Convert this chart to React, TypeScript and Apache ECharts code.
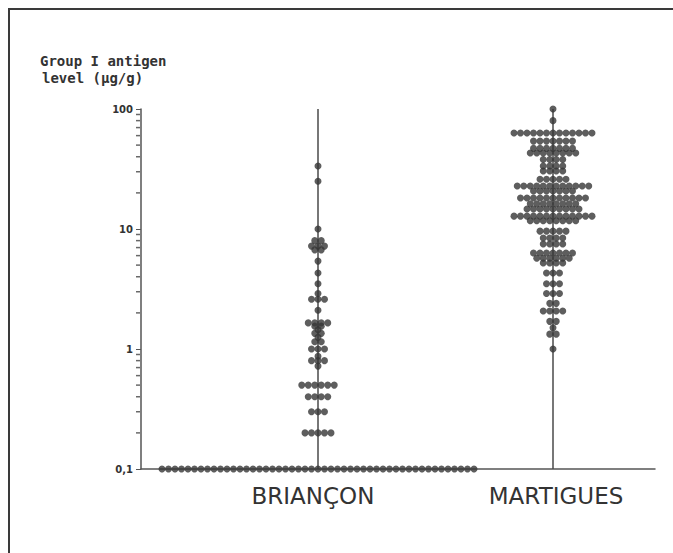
import { useEffect, useRef } from "react";
import * as echarts from "echarts";

// Site names shown under each column
const groups = ["BRIANÇON", "MARTIGUES"];

// Axis title, one entry per printed line
const yTitleLines = ["Group I antigen", "level (µg/g)"];

// Y axis decades and their printed labels (French decimal comma)
const yTickValues = [0.1, 1, 10, 100];
const yTickLabels = ["0,1", "1", "10", "100"];
const minorTickValues = [
  0.2, 0.3, 0.4, 0.5, 0.6, 0.7, 0.8, 0.9,
  2, 3, 4, 5, 6, 7, 8, 9,
  20, 30, 40, 50, 60, 70, 80, 90,
];

// Briançon: antigen level of each row of dots and how many children share it
const brianconLevels = [
  33.5, 25, 10, 8, 7.2, 6.7, 5.4, 4.3, 3.5, 2.9, 2.6, 2.1, 1.65, 1.55, 1.45,
  1.35, 1.25, 1.15, 1.0, 0.87, 0.8, 0.72, 0.5, 0.4, 0.3, 0.2, 0.1,
];
const brianconCounts = [
  1, 1, 1, 2, 3, 2, 1, 1, 1, 1, 3, 1, 4, 2, 1,
  2, 1, 2, 3, 1, 3, 1, 6, 4, 3, 5, 49,
];

// Martigues: antigen level of each row of dots and how many children share it
const martiguesLevels = [
  100, 80, 63, 54, 47, 43, 38, 33.5, 30.4, 26, 22.8, 20.7, 18.1, 16.2, 14.7,
  12.8, 11.7, 9.6, 8.4, 7.5, 6.3, 5.7, 5.2, 4.3, 3.5, 2.9, 2.4, 2.07, 1.7, 1.5,
  1.33, 1.0,
];
const martiguesCounts = [
  1, 1, 13, 7, 7, 8, 4, 4, 4, 5, 12, 7, 11, 8, 9,
  13, 8, 5, 4, 4, 7, 6, 4, 3, 3, 3, 2, 4, 2, 1,
  2, 1,
];

// Horizontal layout: x axis runs in pixel-sized units across the plot
const X_MAX = 514;
const COLUMN_X = [177, 412];
const DOT_STEP = 6.5;

const INK = "#363636";

function rowsToPoints(levels: number[], counts: number[], cx: number) {
  const pts: number[][] = [];
  levels.forEach((v, r) => {
    const n = counts[r];
    for (let i = 0; i < n; i++) {
      pts.push([cx + (i - (n - 1) / 2) * DOT_STEP, v]);
    }
  });
  return pts;
}

export default function App() {
  const ref = useRef<HTMLDivElement>(null);

  useEffect(() => {
    if (!ref.current) return;
    const chart = echarts.init(ref.current, null, { renderer: "svg" });

    const dotSeries = [
      rowsToPoints(brianconLevels, brianconCounts, COLUMN_X[0]),
      rowsToPoints(martiguesLevels, martiguesCounts, COLUMN_X[1]),
    ].map((data, i) => ({
      name: groups[i],
      type: "scatter",
      data,
      symbol: "circle",
      symbolSize: 7,
      itemStyle: { color: INK },
      z: 3,
    }));

    const stemSeries = COLUMN_X.map((cx, i) => ({
      name: groups[i] + " stem",
      type: "line",
      data: [
        [cx, 0.1],
        [cx, 100],
      ],
      symbol: "none",
      lineStyle: { color: "#4a4a4a", width: 1.5 },
      z: 2,
    }));

    chart.setOption({
      animation: false,
      backgroundColor: "#ffffff",
      grid: {
        left: 141,
        top: 109,
        width: X_MAX,
        height: 360,
        outerBoundsMode: "none",
      },
      xAxis: {
        type: "value",
        min: 0,
        max: X_MAX,
        axisLine: { show: true, onZero: false, lineStyle: { color: "#555", width: 1.5 } },
        axisTick: { show: false },
        axisLabel: { show: false },
        splitLine: { show: false },
      },
      yAxis: {
        type: "log",
        logBase: 10,
        min: 0.1,
        max: 100,
        axisLine: { show: true, lineStyle: { color: "#555", width: 1.5 } },
        axisTick: { show: true, length: 5, lineStyle: { color: "#555", width: 1 } },
        axisLabel: {
          show: true,
          margin: 8,
          color: "#333",
          fontFamily: "DejaVu Sans",
          fontWeight: "bold",
          fontSize: 10,
          formatter: (v: number) => {
            const k = yTickValues.findIndex((t) => Math.abs(t - v) < t * 1e-6);
            return k >= 0 ? yTickLabels[k] : "";
          },
        },
        splitLine: { show: false },
      },
      series: [
        ...stemSeries,
        ...dotSeries,
        {
          name: "minor ticks",
          type: "scatter",
          data: minorTickValues.map((v) => [0, v]),
          symbol: "rect",
          symbolSize: [4, 1.5],
          symbolOffset: [-3, 0],
          itemStyle: { color: "#444" },
          clip: false,
          silent: true,
          z: 4,
        },
      ],
      graphic: [
        {
          type: "rect",
          shape: { x: 9, y: 9, width: 700, height: 600 },
          style: { fill: "none", stroke: "#3a3a3a", lineWidth: 2 },
          z: 10,
        },
        ...yTitleLines.map((line, i) => ({
          type: "text",
          x: 40 + i * 2,
          y: 54 + i * 17,
          style: {
            text: line,
            fontFamily: "DejaVu Sans Mono",
            fontWeight: "bold",
            fontSize: 14,
            fill: "#333",
          },
        })),
        ...groups.map((g, i) => ({
          type: "text",
          x: [313, 556][i],
          y: 496,
          style: {
            text: g,
            fontFamily: "DejaVu Sans",
            fontSize: 23,
            fill: "#333",
            align: "center",
            verticalAlign: "middle",
          },
        })),
      ],
    });

    return () => chart.dispose();
  }, []);

  return (
    <div
      ref={ref}
      style={{ position: "fixed", left: 0, top: 0, width: 673, height: 553 }}
    />
  );
}
